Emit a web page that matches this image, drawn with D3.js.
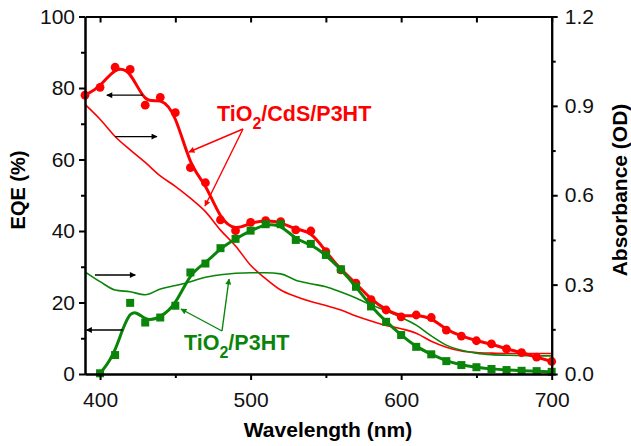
<!DOCTYPE html>
<html>
<head>
<meta charset="utf-8">
<script src="https://cdn.jsdelivr.net/npm/d3@7"></script>
<style>
  body { margin: 0; background: #fff; }
  svg { display: block; font-family: "Liberation Sans", Arial, sans-serif; }
  .axis path, .axis line { stroke: #000; stroke-width: 2; }
  .axis text { font-size: 21px; fill: #111; }
  .title { font-size: 20px; font-weight: bold; fill: #000; }
</style>
</head>
<body>
<div id="chart"></div>
<script>
// wavelength (nm)
const wavelengths = [390, 400, 410, 420, 430, 440, 450, 460, 470, 480, 490, 500, 510, 520, 530, 540,
  550, 560, 570, 580, 590, 600, 610, 620, 630, 640, 650, 660, 670, 680, 690, 700];

// EQE (%) points
const eqeCdS = [78.0, 80.2, 85.8, 85.2, 75.2, 77.4, 73.1, 57.7, 53.5, 43.1, 40.1, 42.4, 42.9, 42.6, 40.3, 40.0,
  34.2, 29.1, 25.4, 20.8, 17.9, 16.0, 16.5, 15.8, 12.3, 10.6, 9.3, 8.4, 7.0, 6.0, 4.7, 3.5];
const eqeTiO2 = [null, 0.2, 5.3, 19.9, 14.4, 15.8, 19.1, 28.4, 30.9, 35.2, 37.8, 40.1, 41.9, 41.9, 37.5, 36.4,
  33.3, 29.3, 24.4, 18.9, 14.6, 10.9, 7.6, 5.5, 3.6, 2.5, 1.9, 1.4, 1.1, 0.9, 0.8, 0.6];

// absorbance (OD)
const absCdS = [0.905, 0.855, 0.797, 0.752, 0.71, 0.665, 0.63, 0.59, 0.545, 0.483, 0.43, 0.365, 0.32, 0.282, 0.26, 0.243,
  0.23, 0.215, 0.195, 0.178, 0.163, 0.152, 0.137, 0.11, 0.09, 0.077, 0.072, 0.07, 0.069, 0.069, 0.069, 0.069];
const absTiO2 = [0.343, 0.31, 0.282, 0.276, 0.266, 0.285, 0.297, 0.31, 0.325, 0.333, 0.338, 0.34, 0.34, 0.336, 0.315, 0.303,
  0.293, 0.275, 0.255, 0.232, 0.212, 0.19, 0.164, 0.128, 0.097, 0.08, 0.07, 0.065, 0.063, 0.062, 0.061, 0.061];

const xTicks = [400, 500, 600, 700];
const xMinor = [450, 550, 650];
const eqeTicks = [0, 20, 40, 60, 80, 100];
const eqeMinor = [10, 30, 50, 70, 90];
const absTicks = [0, 0.3, 0.6, 0.9, 1.2];
const absMinor = [0.15, 0.45, 0.75, 1.05];

const red = "#ff0000";
const green = "#0a850a";

const width = 631;
const height = 446;
const margin = { top: 16.5, right: 79.3, bottom: 72, left: 85 };

const svg = d3.select("#chart").append("svg")
  .attr("width", width)
  .attr("height", height);

const x = d3.scaleLinear().domain([390, 700]).range([margin.left, width - margin.right]);
const yEqe = d3.scaleLinear().domain([0, 100]).range([height - margin.bottom, margin.top]);
const yAbs = d3.scaleLinear().domain([0, 1.2]).range([height - margin.bottom, margin.top]);

const defs = svg.append("defs");
function arrowHead(id, color) {
  defs.append("marker")
    .attr("id", id)
    .attr("viewBox", "0 0 10 10")
    .attr("refX", 9).attr("refY", 5)
    .attr("markerWidth", 9).attr("markerHeight", 6)
    .attr("markerUnits", "userSpaceOnUse")
    .attr("orient", "auto")
    .append("path")
    .attr("d", "M0,0 L10,5 L0,10 Z")
    .attr("fill", color);
}
arrowHead("ah-black", "#000");
arrowHead("ah-red", red);
arrowHead("ah-green", green);

// absorbance curves (thin)
const absLine = (vals) => d3.line()
  .x((d, i) => x(wavelengths[i]))
  .y((d) => yAbs(d))
  .curve(d3.curveMonotoneX)(vals);

svg.append("path").attr("d", absLine(absCdS))
  .attr("fill", "none").attr("stroke", red).attr("stroke-width", 1.6);
svg.append("path").attr("d", absLine(absTiO2))
  .attr("fill", "none").attr("stroke", green).attr("stroke-width", 1.6);

// EQE curves
function eqeSeries(vals, color, shape) {
  const pts = vals.map((v, i) => [wavelengths[i], v]).filter((d) => d[1] !== null);
  const line = d3.line()
    .x((d) => x(d[0]))
    .y((d) => yEqe(d[1]))
    .curve(d3.curveBasis);
  const g = svg.append("g");
  g.append("path").attr("d", line(pts))
    .attr("fill", "none").attr("stroke", color).attr("stroke-width", 3);
  if (shape === "circle") {
    g.selectAll("circle").data(pts).join("circle")
      .attr("cx", (d) => x(d[0]))
      .attr("cy", (d) => yEqe(d[1]))
      .attr("r", 4.4)
      .attr("fill", color);
  } else {
    g.selectAll("rect").data(pts).join("rect")
      .attr("x", (d) => x(d[0]) - 4)
      .attr("y", (d) => yEqe(d[1]) - 4)
      .attr("width", 8).attr("height", 8)
      .attr("fill", color);
  }
}
eqeSeries(eqeCdS, red, "circle");
eqeSeries(eqeTiO2, green, "square");

// axes
const bottom = height - margin.bottom;
const right = width - margin.right;

svg.append("g").attr("class", "axis").attr("transform", `translate(0,${bottom})`)
  .call(d3.axisBottom(x).tickValues(xTicks).tickSize(6).tickPadding(12).tickSizeOuter(0));
svg.append("g").attr("class", "axis").attr("transform", `translate(0,${bottom})`)
  .call(d3.axisBottom(x).tickValues(xMinor).tickSize(4).tickFormat("").tickSizeOuter(0));
svg.append("g").attr("class", "axis").attr("transform", `translate(0,${margin.top})`)
  .call(d3.axisBottom(x).tickValues(xTicks.concat(xMinor)).tickSize(6).tickFormat("").tickSizeOuter(0));

svg.append("g").attr("class", "axis").attr("transform", `translate(${margin.left},0)`)
  .call(d3.axisLeft(yEqe).tickValues(eqeTicks).tickSize(6).tickPadding(4).tickSizeOuter(0));
svg.append("g").attr("class", "axis").attr("transform", `translate(${margin.left},0)`)
  .call(d3.axisLeft(yEqe).tickValues(eqeMinor).tickSize(4).tickFormat("").tickSizeOuter(0));

svg.append("g").attr("class", "axis").attr("transform", `translate(${right},0)`)
  .call(d3.axisRight(yAbs).tickValues(absTicks).tickSize(6).tickPadding(7).tickSizeOuter(0)
    .tickFormat(d3.format(".1f")));
svg.append("g").attr("class", "axis").attr("transform", `translate(${right},0)`)
  .call(d3.axisRight(yAbs).tickValues(absMinor).tickSize(4).tickFormat("").tickSizeOuter(0));

// axis titles
svg.append("text").attr("class", "title")
  .attr("transform", `translate(25,190) rotate(-90)`)
  .attr("text-anchor", "middle")
  .text("EQE (%)");
svg.append("text").attr("class", "title")
  .attr("transform", `translate(627,190) rotate(-90)`)
  .attr("text-anchor", "middle")
  .style("font-size", "21px")
  .text("Absorbance (OD)");
svg.append("text").attr("class", "title")
  .attr("x", 328).attr("y", 437)
  .attr("text-anchor", "middle")
  .style("font-size", "21px")
  .text("Wavelength (nm)");

// axis pointer arrows
function arrow(x1, y1, x2, y2, color, head) {
  svg.append("line")
    .attr("x1", x1).attr("y1", y1).attr("x2", x2).attr("y2", y2)
    .attr("stroke", color).attr("stroke-width", 1.4)
    .attr("marker-end", `url(#${head})`);
}
arrow(x(428.5), yEqe(78), x(404.5), yEqe(78), "#000", "ah-black");
arrow(x(410), yEqe(66.4), x(437.8), yEqe(66.4), "#000", "ah-black");
arrow(x(396.6), yEqe(27.7), x(423.4), yEqe(27.7), "#000", "ah-black");
arrow(x(415.2), yEqe(12.3), x(391), yEqe(12.3), "#000", "ah-black");

// series labels
const redLabel = svg.append("text").attr("x", 217).attr("y", 121)
  .attr("fill", red).style("font-size", "21.5px").style("font-weight", "bold");
redLabel.append("tspan").text("TiO");
redLabel.append("tspan").attr("dy", 8).style("font-size", "16px").text("2");
redLabel.append("tspan").attr("dy", -8).text("/CdS/P3HT");

const greenLabel = svg.append("text").attr("x", 184).attr("y", 350)
  .attr("fill", green).style("font-size", "21.5px").style("font-weight", "bold");
greenLabel.append("tspan").text("TiO");
greenLabel.append("tspan").attr("dy", 8).style("font-size", "16px").text("2");
greenLabel.append("tspan").attr("dy", -8).text("/P3HT");

arrow(243, 129, 189, 152, red, "ah-red");
arrow(243, 129, 205, 206, red, "ah-red");
arrow(222, 331, 181, 309, green, "ah-green");
arrow(222, 331, 229, 279, green, "ah-green");
</script>
</body>
</html>
